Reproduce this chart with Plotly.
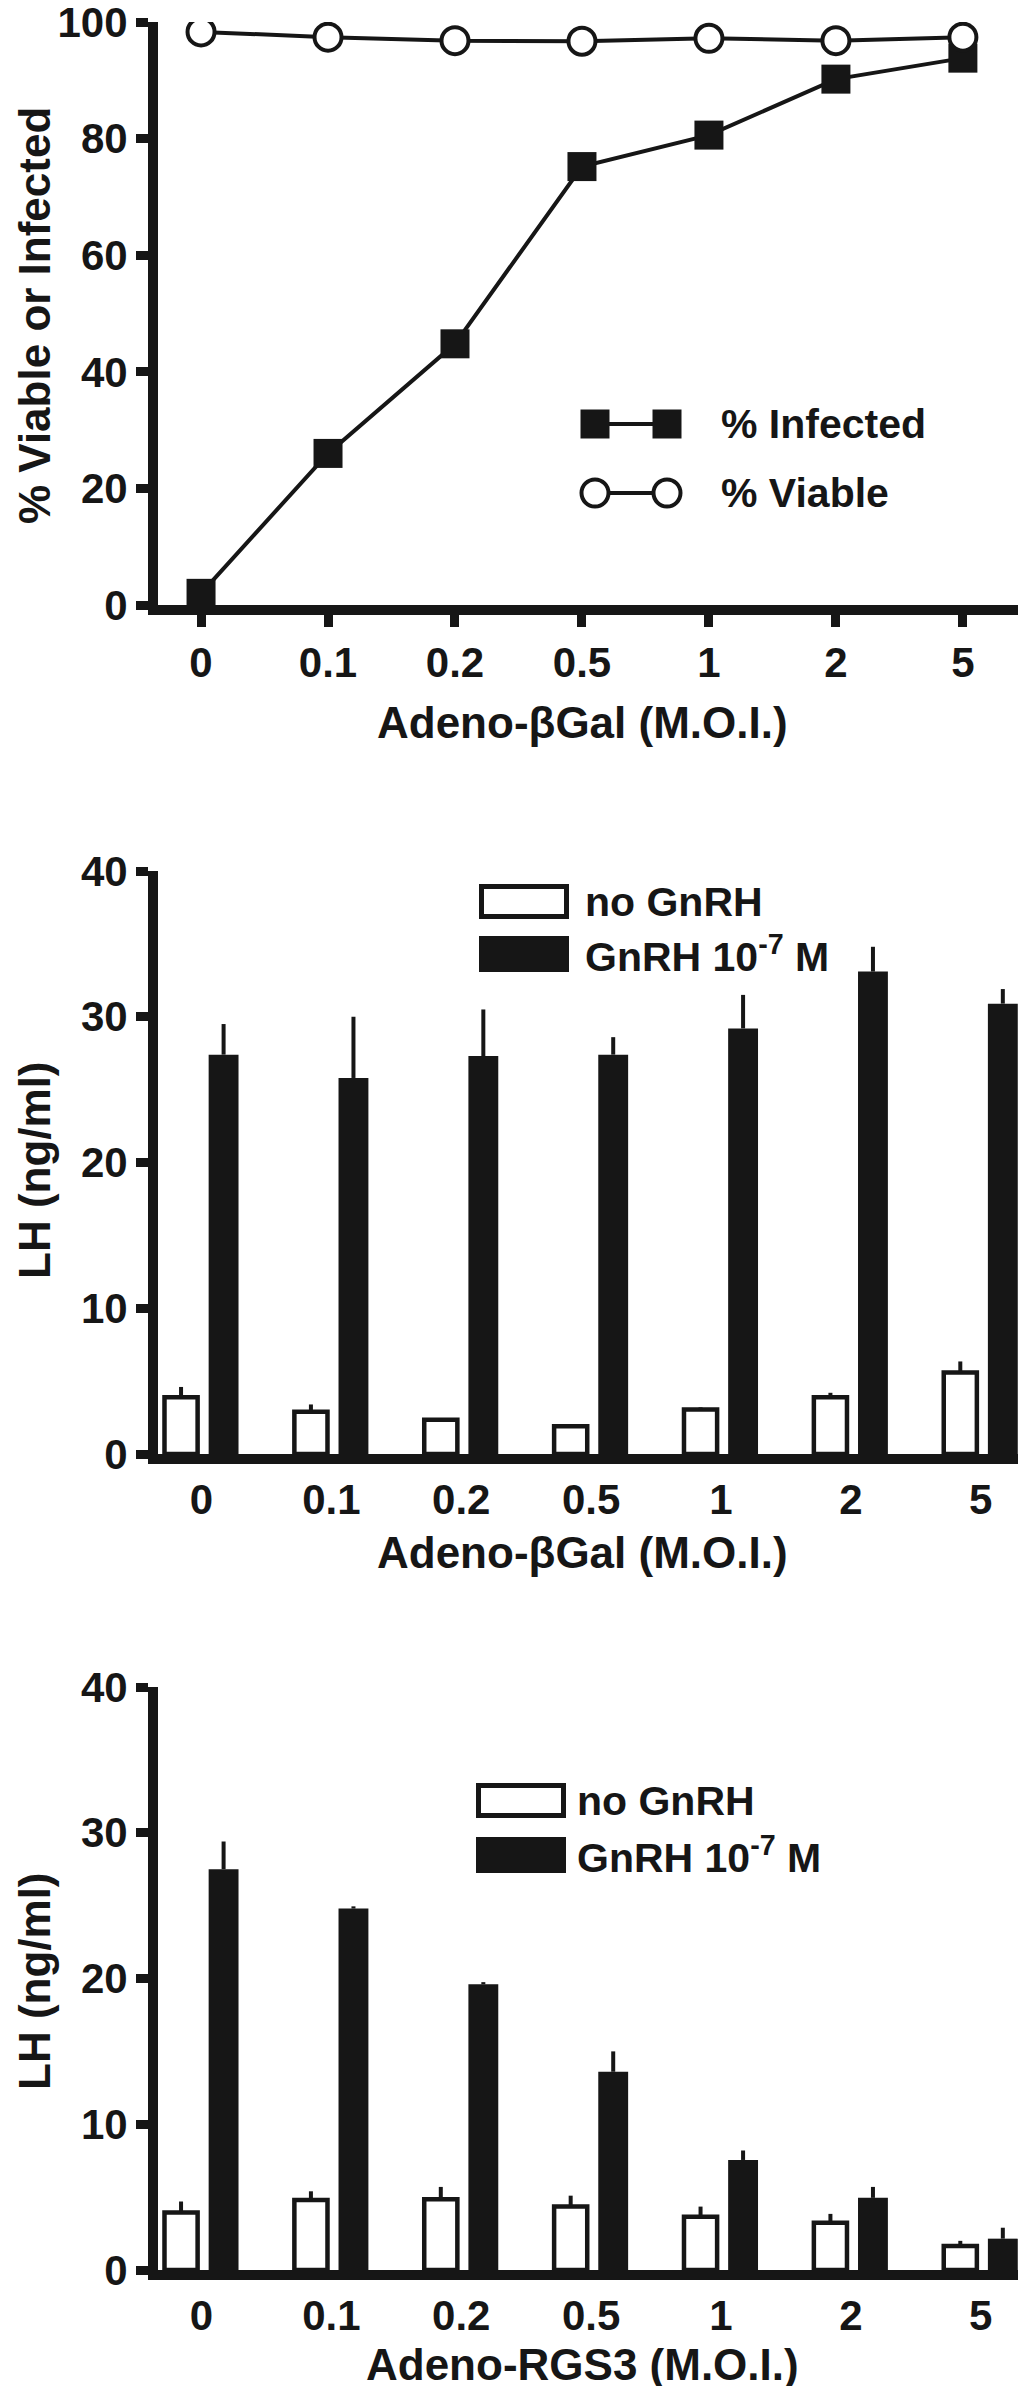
import plotly.graph_objects as go

W, H = 1026, 2386
INK = "#161616"
FONT = "Liberation Sans"

# M.O.I. categories shared by all three panels
moi = ["0", "0.1", "0.2", "0.5", "1", "2", "5"]
pos = list(range(len(moi)))

# panel 1: % infected / % viable after Adeno-bGal
infected = [2.0, 26.0, 44.8, 75.2, 80.6, 90.2, 93.8]
viable = [98.3, 97.4, 96.8, 96.7, 97.2, 96.8, 97.4]

# panel 2: LH after Adeno-bGal
bgal_none = [3.9, 2.9, 2.35, 1.9, 3.05, 3.9, 5.6]
bgal_none_err = [0.7, 0.5, 0.1, 0.0, 0.15, 0.3, 0.75]
bgal_gnrh = [27.4, 25.8, 27.3, 27.4, 29.2, 33.1, 30.9]
bgal_gnrh_err = [2.1, 4.2, 3.2, 1.2, 2.3, 1.7, 1.0]

# panel 3: LH after Adeno-RGS3
rgs3_none = [3.95, 4.8, 4.85, 4.35, 3.65, 3.25, 1.65]
rgs3_none_err = [0.75, 0.6, 0.85, 0.75, 0.7, 0.6, 0.35]
rgs3_gnrh = [27.5, 24.8, 19.6, 13.6, 7.55, 4.95, 2.15]
rgs3_gnrh_err = [1.9, 0.15, 0.15, 1.4, 0.65, 0.75, 0.75]


def px(x):
    return x / W


def py(y):
    return 1 - y / H


def err(up):
    return dict(type="data", symmetric=False, array=up, arrayminus=[0] * len(up),
                width=0, thickness=4, color=INK)


fig = go.Figure()

fig.add_trace(go.Scatter(x=pos, y=infected, mode="lines+markers", xaxis="x", yaxis="y",
                         line=dict(color=INK, width=4),
                         marker=dict(symbol="square", size=29, color=INK)))
fig.add_trace(go.Scatter(x=pos, y=viable, mode="lines+markers", xaxis="x", yaxis="y",
                         line=dict(color=INK, width=4),
                         marker=dict(symbol="circle", size=27, color="white",
                                     line=dict(color=INK, width=4))))

for xa, ya, none, none_e, gnrh, gnrh_e in [("x2", "y2", bgal_none, bgal_none_err, bgal_gnrh, bgal_gnrh_err),
                                           ("x3", "y3", rgs3_none, rgs3_none_err, rgs3_gnrh, rgs3_gnrh_err)]:
    fig.add_trace(go.Bar(x=pos, y=none, xaxis=xa, yaxis=ya, width=0.255, offset=-0.285,
                         marker=dict(color="white", line=dict(color=INK, width=4.5)),
                         error_y=err(none_e)))
    fig.add_trace(go.Bar(x=pos, y=gnrh, xaxis=xa, yaxis=ya, width=0.23, offset=0.055,
                         marker=dict(color=INK, line=dict(width=0)),
                         error_y=err(gnrh_e)))

tickfont = dict(family=FONT, size=42, color=INK, weight="bold")
axis_common = dict(showline=True, linewidth=10, linecolor=INK, showgrid=False, zeroline=False,
                   tickfont=tickfont, tickcolor=INK, tickwidth=9, ticklen=12, fixedrange=True,
                   automargin=False, ticklabeloverflow="allow")

fig.update_layout(
    width=W, height=H, margin=dict(l=0, r=0, t=0, b=0),
    paper_bgcolor="white", plot_bgcolor="white", showlegend=False, barmode="overlay",
    xaxis=dict(domain=[px(150), 1], range=[-0.339, 6.56], tickvals=pos, ticktext=moi,
               ticks="outside", anchor="y", **axis_common),
    yaxis=dict(domain=[py(597), py(14)], range=[0, 100], dtick=20, ticks="outside",
               anchor="x", **axis_common),
    xaxis2=dict(domain=[px(150), 1], range=[-0.335, 6.41], tickvals=pos, ticktext=moi,
                ticks="", anchor="y2", **axis_common),
    yaxis2=dict(domain=[py(1446), py(863)], range=[0, 40], dtick=10, ticks="outside",
                anchor="x2", **axis_common),
    xaxis3=dict(domain=[px(150), 1], range=[-0.335, 6.41], tickvals=pos, ticktext=moi,
                ticks="", anchor="y3", **axis_common),
    yaxis3=dict(domain=[py(2262), py(1679)], range=[0, 40], dtick=10, ticks="outside",
                anchor="x3", **axis_common),
)

title_font = dict(family=FONT, size=44, color=INK, weight="bold")
legend_font = dict(family=FONT, size=41, color=INK, weight="bold")
annotations = [
    dict(text="Adeno-βGal (M.O.I.)", x=px(574), y=py(714), font=title_font),
    dict(text="Adeno-βGal (M.O.I.)", x=px(574), y=py(1544), font=title_font),
    dict(text="Adeno-RGS3 (M.O.I.)", x=px(574), y=py(2356), font=title_font),
    dict(text="% Viable or Infected", x=px(26), y=py(308), textangle=-90, font=title_font),
    dict(text="LH (ng/ml)", x=px(26), y=py(1162), textangle=-90, font=title_font),
    dict(text="LH (ng/ml)", x=px(26), y=py(1973), textangle=-90, font=title_font),
    dict(text="% Infected", x=px(711), y=py(416), xanchor="left", font=legend_font),
    dict(text="% Viable", x=px(711), y=py(485), xanchor="left", font=legend_font),
    dict(text="no GnRH", x=px(575), y=py(894), xanchor="left", font=legend_font),
    dict(text="GnRH 10<sup>-7</sup> M", x=px(575), y=py(946), xanchor="left", font=legend_font),
    dict(text="no GnRH", x=px(567), y=py(1793), xanchor="left", font=legend_font),
    dict(text="GnRH 10<sup>-7</sup> M", x=px(567), y=py(1847), xanchor="left", font=legend_font),
]
for a in annotations:
    a.update(xref="paper", yref="paper", showarrow=False)
    a.setdefault("xanchor", "center")
    a.setdefault("yanchor", "middle")
fig.update_layout(annotations=annotations)


def box(x0, y0, x1, y1, **kw):
    return dict(xref="paper", yref="paper", x0=px(x0), x1=px(x1), y0=py(y1), y1=py(y0), **kw)


shapes = []
# legend keys, panel 1
for yc, kind in [(416, "square"), (485, "circle")]:
    shapes.append(box(587, yc, 659, yc, type="line", line=dict(color=INK, width=4)))
    for xc in (587, 659):
        if kind == "square":
            shapes.append(box(xc - 14.5, yc - 14.5, xc + 14.5, yc + 14.5, type="rect",
                              fillcolor=INK, line=dict(width=0)))
        else:
            shapes.append(box(xc - 13.5, yc - 13.5, xc + 13.5, yc + 13.5, type="circle",
                              fillcolor="white", line=dict(color=INK, width=4)))
# legend keys, bar panels
for x0, ya, yb in [(471, 876, 928), (468, 1775, 1829)]:
    shapes.append(box(x0 + 2.5, ya + 2.5, x0 + 87.5, ya + 32.5, type="rect",
                      fillcolor="white", line=dict(color=INK, width=5)))
    shapes.append(box(x0, yb, x0 + 90, yb + 36, type="rect", fillcolor=INK, line=dict(width=0)))
fig.update_layout(shapes=shapes)

fig.write_html("out.html")
